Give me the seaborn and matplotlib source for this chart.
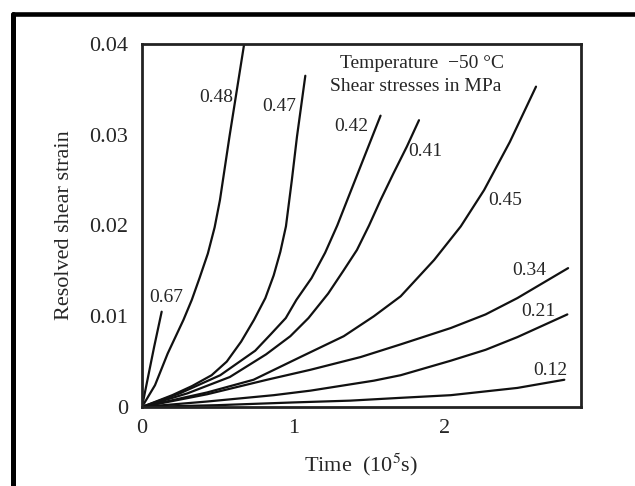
import pandas as pd
import seaborn as sns
import matplotlib.pyplot as plt
from matplotlib.lines import Line2D

# Creep curves: time in 1e5 s, resolved shear strain
t_067 = [0, 0.04, 0.08, 0.13]
g_067 = [0, 0.0033, 0.0066, 0.0105]

t_048 = [0, 0.086, 0.17, 0.274, 0.329, 0.38, 0.435, 0.48, 0.515, 0.578, 0.675]
g_048 = [0, 0.0024, 0.0059, 0.0096, 0.0118, 0.0142, 0.0169, 0.0198, 0.0228, 0.0298, 0.040]

t_047 = [0, 0.2, 0.33, 0.46, 0.56, 0.655, 0.74, 0.815, 0.87, 0.914, 0.951, 0.99, 1.024, 1.079]
g_047 = [0, 0.0013, 0.0023, 0.0035, 0.005, 0.0072, 0.0096, 0.012, 0.0145, 0.0171, 0.0199, 0.025, 0.0298, 0.0365]

t_042 = [0, 0.25, 0.517, 0.748, 0.85, 0.95, 1.02, 1.12, 1.21, 1.29, 1.356, 1.46, 1.576]
g_042 = [0, 0.0015, 0.0035, 0.0062, 0.008, 0.0098, 0.0118, 0.0142, 0.017, 0.02, 0.0228, 0.0272, 0.0321]

t_041 = [0, 0.3, 0.58, 0.82, 0.98, 1.10, 1.23, 1.33, 1.42, 1.50, 1.576, 1.66, 1.75, 1.83]
g_041 = [0, 0.0015, 0.0033, 0.0058, 0.0078, 0.0098, 0.0125, 0.015, 0.0173, 0.02, 0.0228, 0.0257, 0.0287, 0.0316]

t_045 = [0, 0.43, 0.737, 1.046, 1.333, 1.532, 1.709, 1.93, 2.106, 2.26, 2.43, 2.603]
g_045 = [0, 0.0016, 0.003, 0.0055, 0.0078, 0.01, 0.0122, 0.0162, 0.0199, 0.0239, 0.0292, 0.0353]

t_034 = [0, 0.43, 0.826, 1.113, 1.444, 1.709, 2.04, 2.27, 2.48, 2.815]
g_034 = [0, 0.0014, 0.003, 0.0041, 0.0055, 0.0069, 0.0087, 0.0102, 0.012, 0.0153]

t_021 = [0, 0.43, 0.87, 1.113, 1.532, 1.709, 2.04, 2.27, 2.48, 2.81]
g_021 = [0, 0.0006, 0.0013, 0.0018, 0.0029, 0.0035, 0.0051, 0.0063, 0.0077, 0.0102]

t_012 = [0, 0.5, 1.0, 1.377, 1.7, 2.04, 2.48, 2.79]
g_012 = [0, 0.0002, 0.0005, 0.0007, 0.001, 0.0013, 0.0021, 0.003]

# label text and where it sits (data coords)
stresses = ['0.67', '0.48', '0.47', '0.42', '0.41', '0.45', '0.34', '0.21', '0.12']
label_x = [0.16, 0.49, 0.91, 1.38, 1.87, 2.40, 2.56, 2.62, 2.70]
label_y = [0.0121, 0.0341, 0.0331, 0.0309, 0.0281, 0.0227, 0.0150, 0.0105, 0.0040]

curves = [(t_067, g_067), (t_048, g_048), (t_047, g_047), (t_042, g_042),
          (t_041, g_041), (t_045, g_045), (t_034, g_034), (t_021, g_021),
          (t_012, g_012)]

rows = []
for s, (ts, gs) in zip(stresses, curves):
    for t, g in zip(ts, gs):
        rows.append((s, t, g))
df = pd.DataFrame(rows, columns=['stress', 'time', 'strain'])

sns.set_style('white')
plt.rcParams['font.family'] = ['Liberation Serif', 'DejaVu Serif']
plt.rcParams['mathtext.fontset'] = 'stix'

fig = plt.figure(figsize=(6.35, 4.86), dpi=100)
ax = fig.add_axes([0.2236, 0.1626, 0.6913, 0.7469])

sns.lineplot(data=df, x='time', y='strain', hue='stress', hue_order=stresses,
             estimator=None, sort=False, legend=False,
             palette=['#111111'] * len(stresses), linewidth=1.6, ax=ax)

for s, lx, ly in zip(stresses, label_x, label_y):
    ax.text(lx, ly, s, ha='center', va='center', fontsize=14)

ax.text(1.85, 0.0378, 'Temperature  \u221250 \u00b0C', ha='center', va='center', fontsize=14)
ax.text(1.81, 0.0353, 'Shear stresses in MPa', ha='center', va='center', fontsize=14)

ax.set_xlim(0, 2.9)
ax.set_ylim(0, 0.04)
ax.set_xticks([0, 1, 2])
ax.set_xticklabels(['0', '1', '2'])
ax.set_yticks([0, 0.01, 0.02, 0.03, 0.04])
ax.set_yticklabels(['0', '0.01', '0.02', '0.03', '0.04'])
ax.tick_params(axis='y', direction='in', length=9, width=1.5, labelsize=16, pad=10, color='#222222')
ax.tick_params(axis='x', direction='in', length=6, width=1.2, labelsize=16, pad=9, color='#222222')
ax.set_xlabel('Time  (10$^5$s)', fontsize=16, labelpad=9)
ax.set_ylabel('Resolved shear strain', fontsize=16, labelpad=11)
for sp in ax.spines.values():
    sp.set_linewidth(2)
    sp.set_color('#222222')

# scanned page frame: top and left rules
fig.add_artist(Line2D([0.0197, 1.0], [0.971, 0.971], transform=fig.transFigure, color='black', linewidth=3.3))
fig.add_artist(Line2D([0.0197, 0.0197], [0.0, 0.971], transform=fig.transFigure, color='black', linewidth=3.6))

fig.savefig('out.png', dpi=100)
